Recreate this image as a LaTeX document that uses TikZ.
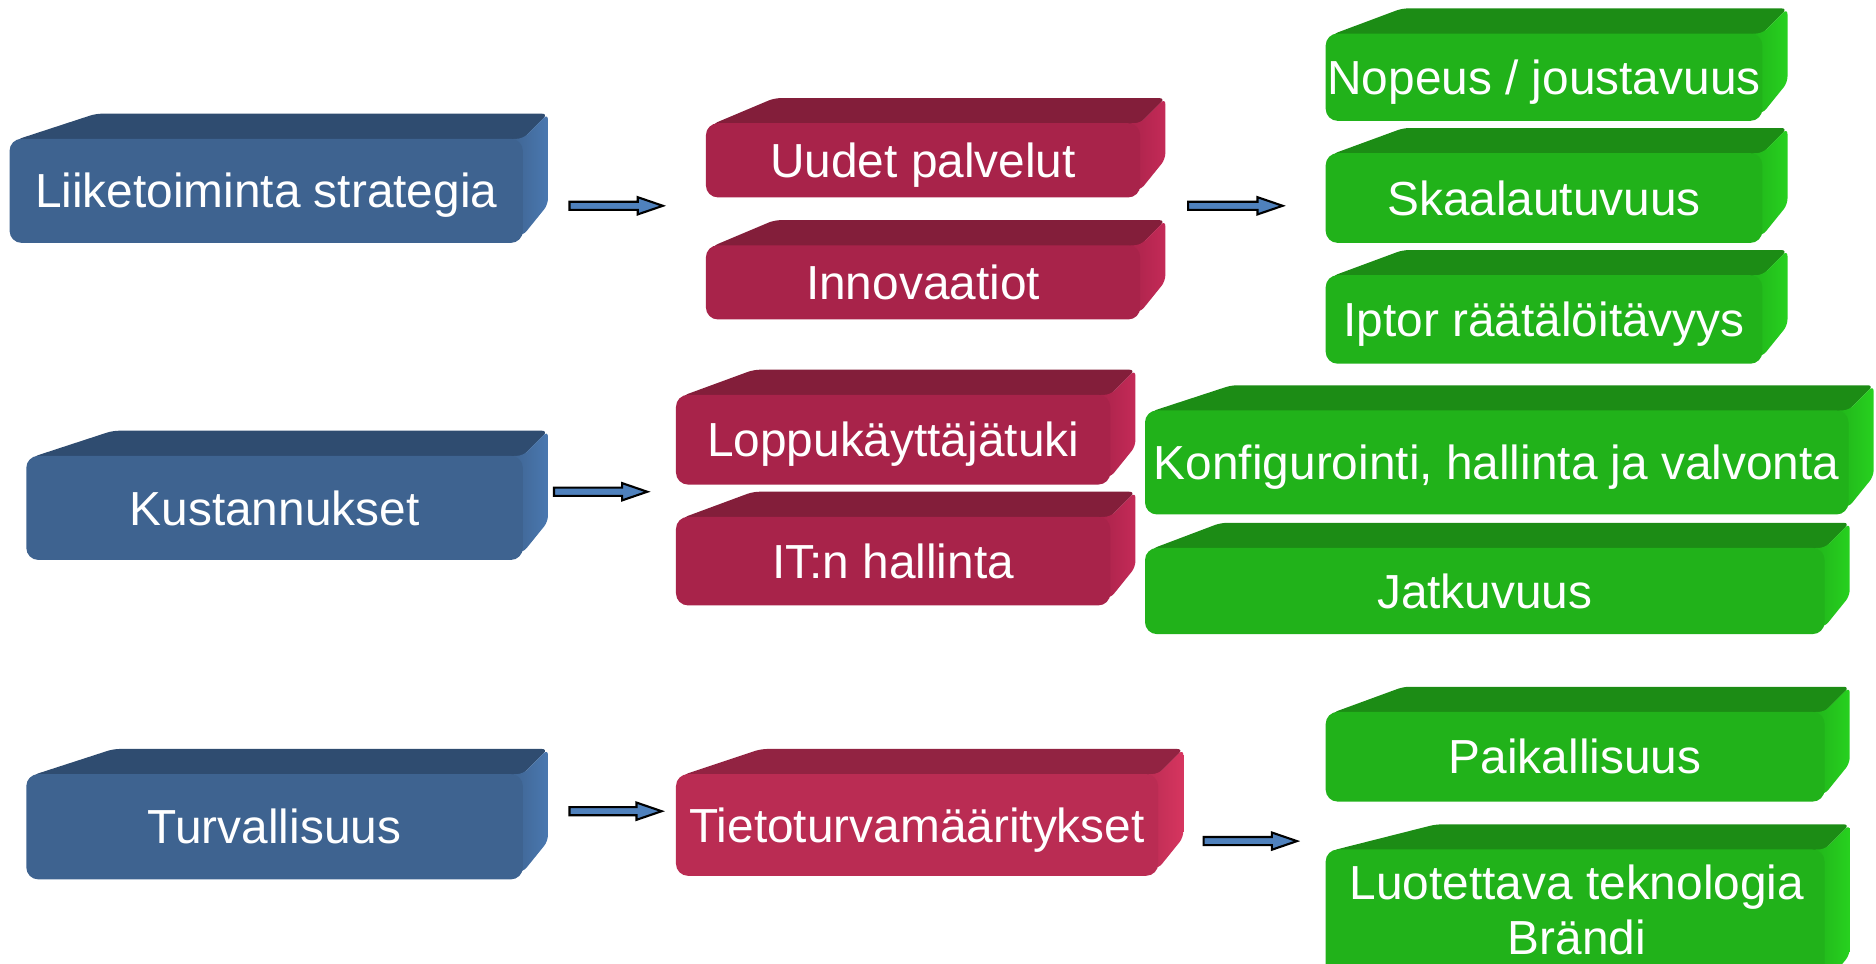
\documentclass[tikz,border=0pt]{standalone}
\usepackage{fontspec}
\setmainfont{Liberation Sans}
\usetikzlibrary{calc}
\definecolor{bfront}{HTML}{3E6390}
\definecolor{btop}{HTML}{2F4C70}
\definecolor{bside}{HTML}{4A78B0}
\definecolor{rfront}{HTML}{A8234A}
\definecolor{rtop}{HTML}{831E3A}
\definecolor{rside}{HTML}{C42A57}
\definecolor{sfront}{HTML}{BA2C53}
\definecolor{stop}{HTML}{922342}
\definecolor{sside}{HTML}{D6355F}
\definecolor{gfront}{HTML}{21B21A}
\definecolor{gtop}{HTML}{1C8C15}
\definecolor{gside}{HTML}{27D11F}
\definecolor{arrfill}{HTML}{4F81BD}
\tikzset{
  lbl/.style={text=white, inner sep=0pt, font=\fontsize{13.6}{15.4}\selectfont,
              text height=9.74pt, text depth=0pt},
  lbltwo/.style={text=white, inner sep=0pt, font=\fontsize{13.6}{15.4}\selectfont, align=center},
  blockarr/.style={fill=arrfill, draw=black, line width=0.6pt, line join=miter},
}
% #1 name, #2 x1, #3 y1, #4 x2, #5 y2, #6 colour prefix
\newcommand{\cubeshape}[6]{%
  \pgfmathsetmacro{\cbh}{#5-#3}%
  \pgfmathsetmacro{\cbxl}{#2+20+0.6*\cbh}%
  \pgfmathsetmacro{\cbyb}{#3-21}%
  \pgfmathsetmacro{\cbxr}{#4+21}%
  \pgfmathsetmacro{\cbybb}{#5-32}%
  \fill[#6top, rounded corners=0.06cm] ({#2+5},{#3+1}) -- (\cbxl,\cbyb) -- (\cbxr,\cbyb) -- (#4,#3) -- ({#4-12},{#3+12}) -- ({#2+5},{#3+12}) -- cycle;
  \shade[left color=#6front, right color=#6side, rounded corners=0.06cm] ({#4-12},#3) -- (#4,#3) -- (\cbxr,\cbyb) -- (\cbxr,\cbybb) -- (#4,{#5-6}) -- ({#4-12},{#5-6}) -- cycle;
  \fill[#6front, rounded corners=0.12cm] (#2,#3) rectangle (#4,#5);
  \coordinate (#1) at ({(#2+#4)/2},{(#3+#5)/2});
}
\newcommand{\blockarrow}[4]{%
  \coordinate (#1s) at (#2,#4);
  \coordinate (#1e) at (#3,#4);
  \draw[blockarr] ($(#1s)+(0,3.4)$) -- ($(#1e)+(-21,3.4)$) -- ($(#1e)+(-21,7.2)$) -- (#1e)
     -- ($(#1e)+(-21,-7.2)$) -- ($(#1e)+(-21,-3.4)$) -- ($(#1s)+(0,-3.4)$) -- cycle;
}
\begin{document}
\begin{tikzpicture}[x=0.011964cm, y=-0.011964cm]
\useasboundingbox (0,0) rectangle (1568,805);
\clip (0,0) rectangle (1568,805);
% blue column
\cubeshape{b1}{8}{116}{437}{203}{b}
\node[lbl] (tb1) at (b1) {Liiketoiminta strategia};
\cubeshape{b2}{22}{381}{437}{468}{b}
\node[lbl] (tb2) at (b2) {Kustannukset};
\cubeshape{b3}{22}{647}{437}{735}{b}
\node[lbl] (tb3) at (b3) {Turvallisuus};
% red column
\cubeshape{r1}{590}{103}{953}{165}{r}
\node[lbl] (tr1) at (r1) {Uudet palvelut};
\cubeshape{r2}{590}{205}{953}{267}{r}
\node[lbl] (tr2) at (r2) {Innovaatiot};
\cubeshape{r3}{565}{330}{928}{405}{r}
\node[lbl] (tr3) at (r3) {Loppukäyttäjätuki};
\cubeshape{r4}{565}{432}{928}{506}{r}
\node[lbl] (tr4) at (r4) {IT:n hallinta};
\cubeshape{r5}{565}{647}{968}{732}{s}
\node[lbl] (tr5) at (r5) {Tietoturvamääritykset};
% green column
\cubeshape{g1}{1108}{28}{1473}{101}{g}
\node[lbl] (tg1) at (g1) {Nopeus / joustavuus};
\cubeshape{g2}{1108}{128}{1473}{203}{g}
\node[lbl] (tg2) at (g2) {Skaalautuvuus};
\cubeshape{g3}{1108}{230}{1473}{304}{g}
\node[lbl] (tg3) at (g3) {Iptor räätälöitävyys};
\cubeshape{g4}{957}{343}{1545}{430}{g}
\node[lbl] (tg4) at (g4) {Konfigurointi, hallinta ja valvonta};
\cubeshape{g5}{957}{458}{1525}{530}{g}
\node[lbl] (tg5) at (g5) {Jatkuvuus};
\cubeshape{g6}{1108}{595}{1525}{670}{g}
\node[lbl] (tg6) at (g6) {Paikallisuus};
\cubeshape{g7}{1108}{710}{1525}{830}{g}
\node[lbltwo] (tg7) at (1318,760.5) {Luotettava teknologia\\Brändi};
% arrows
\blockarrow{a1}{476}{554}{172}
\blockarrow{a2}{993}{1072}{172}
\blockarrow{a3}{463}{541}{411}
\blockarrow{a4}{476}{553}{678}
\blockarrow{a5}{1006}{1084}{703}
\end{tikzpicture}
\end{document}
